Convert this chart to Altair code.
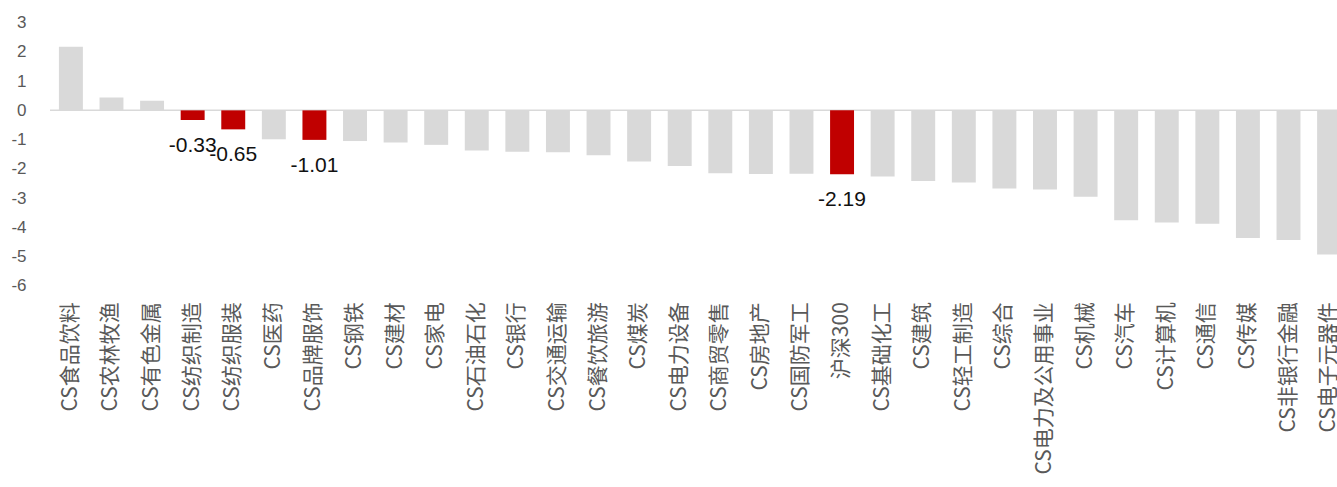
import altair as alt
import pandas as pd

# 行业涨跌幅（%）
industries = [
    "CS食品饮料", "CS农林牧渔", "CS有色金属", "CS纺织制造", "CS纺织服装", "CS医药",
    "CS品牌服饰", "CS钢铁", "CS建材", "CS家电", "CS石油石化", "CS银行",
    "CS交通运输", "CS餐饮旅游", "CS煤炭", "CS电力设备", "CS商贸零售", "CS房地产",
    "CS国防军工", "沪深300", "CS基础化工", "CS建筑", "CS轻工制造", "CS综合",
    "CS电力及公用事业", "CS机械", "CS汽车", "CS计算机", "CS通信", "CS传媒",
    "CS非银行金融", "CS电子元器件",
]
changes = [
    2.18, 0.44, 0.33, -0.33, -0.65, -0.99,
    -1.01, -1.05, -1.10, -1.18, -1.37, -1.42,
    -1.43, -1.54, -1.75, -1.90, -2.15, -2.18,
    -2.17, -2.19, -2.26, -2.42, -2.47, -2.67,
    -2.71, -2.96, -3.76, -3.84, -3.88, -4.37,
    -4.44, -4.93,
]
highlighted = ["CS纺织制造", "CS纺织服装", "CS品牌服饰", "沪深300"]
y_ticks = [-6, -5, -4, -3, -2, -1, 0, 1, 2, 3]

df = pd.DataFrame({"行业": industries, "涨跌幅": changes})
df["标记"] = ["是" if c in highlighted else "否" for c in industries]
zero = pd.DataFrame({"基准": [0]})

x_axis = alt.Axis(
    title=None, labelAngle=-90, ticks=False, tickSize=0, domain=False,
    labelPadding=16, labelFontSize=21, labelColor="#595959",
    labelFont="Noto Sans CJK SC", labelLimit=400, labelOverlap=False,
)
x_scale = alt.Scale(range=[0, 1300], paddingInner=0.41, paddingOuter=0.22)
y_scale = alt.Scale(domain=[-6, 3], nice=False, zero=False)
y_axis = alt.Axis(
    title=None, values=y_ticks, grid=False, domain=False, ticks=False,
    tickSize=0, labelPadding=24, labelFontSize=17, labelColor="#595959",
    labelFont="Liberation Sans", labelOverlap=False,
    labelExpr="datum.value + ''",
)

# zero line across the whole plot
baseline = alt.Chart(zero).mark_rule(color="#d9d9d9", strokeWidth=1.5).encode(
    y=alt.Y("基准:Q", scale=y_scale, axis=y_axis),
    x=alt.value(0),
    x2=alt.value(1300),
)

bars = alt.Chart(df).mark_bar().encode(
    x=alt.X("行业:N", sort=None, scale=x_scale, axis=x_axis),
    y=alt.Y("涨跌幅:Q", scale=y_scale, axis=y_axis),
    color=alt.Color(
        "标记:N",
        scale=alt.Scale(domain=["是", "否"], range=["#c00000", "#d9d9d9"]),
        legend=None,
    ),
)

labels = alt.Chart(df).transform_filter(
    alt.datum["标记"] == "是"
).transform_calculate(
    标签="replace(format(datum['涨跌幅'], '.2f'), '\u2212', '-')"
).mark_text(
    dy=26, fontSize=21, color="#111111", font="Liberation Sans", baseline="middle"
).encode(
    x=alt.X("行业:N", sort=None, scale=x_scale, axis=x_axis),
    y=alt.Y("涨跌幅:Q", scale=y_scale, axis=y_axis),
    text=alt.Text("标签:N"),
)

chart = alt.layer(baseline, bars, labels).properties(
    width=1287,
    height=263,
    autosize=alt.AutoSizeParams(type="none"),
    padding={"left": 50, "top": 22.7, "right": 0, "bottom": 201.3},
    background="white",
).configure_view(stroke=None)

chart.save("out.html", embed_options={"renderer": "svg", "actions": False})
